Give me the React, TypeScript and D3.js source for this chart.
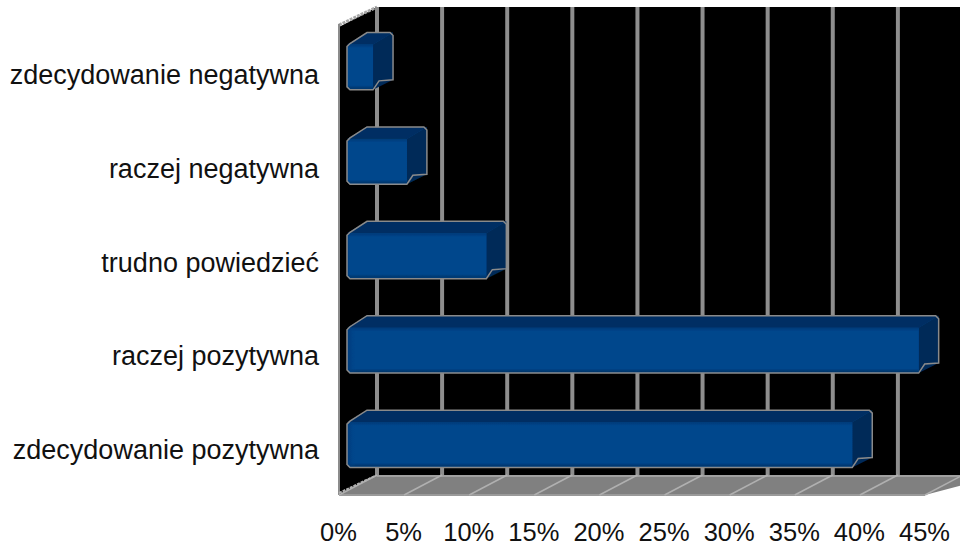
import React, { useEffect, useRef } from 'react';
import * as d3 from 'd3';

const categories = [
	'zdecydowanie negatywna',
	'raczej negatywna',
	'trudno powiedzieć',
	'raczej pozytywna',
	'zdecydowanie pozytywna',
];
const values = [2, 4.6, 10.7, 43.9, 38.8];
const ticks = [0, 5, 10, 15, 20, 25, 30, 35, 40, 45];

const width = 960;
const height = 548;
const fontFamily = '"Liberation Sans", Arial, sans-serif';

// front edge of the floor, the back wall sits up and to the right of it
const x = d3.scaleLinear().domain([0, 45]).range([339, 925]);
const y = d3.scaleBand().domain(categories).range([20, 492]).paddingInner(0.52).paddingOuter(0.26);
const labelY = d3.scalePoint().domain(categories).range([84, 459]);
const wallDx = 38;
const wallDy = 20;
const floorY = 495;
const topY = 27;
const barDx = 20;
const barDy = 12;
const barInset = 8;

const XAxis = () => {
	const axis = useRef<SVGGElement>(null);
	useEffect(() => {
		const g = d3.select(axis.current);
		g.call(d3.axisBottom(x).tickValues(ticks).tickSize(0).tickPadding(0).tickFormat((d) => `${d}%`) as any);
		g.select('.domain').remove();
		g.selectAll('text').attr('fill', '#111').attr('font-size', 25.5).attr('font-family', fontFamily).attr('dy', 0).attr('y', 0);
	}, []);
	return <g ref={axis} transform={`translate(-1, 541)`} />;
};

const Bar = ({ name, value }: { name: string; value: number }) => {
	const x0 = x(0) + barInset;
	const x1 = x(value) + barInset;
	const top = y(name)!;
	const bottom = top + y.bandwidth();
	const backBottom = bottom - 10;
	const outline = d3.path();
	outline.moveTo(x0, top + 2);
	outline.lineTo(x0 + 3, top - 1);
	outline.lineTo(x0 + barDx, top - barDy);
	outline.lineTo(x1 + barDx - 3, top - barDy);
	outline.lineTo(x1 + barDx, top - barDy + 3);
	outline.lineTo(x1 + barDx, backBottom);
	outline.lineTo(x1 + 6, backBottom + 1);
	outline.lineTo(x1, bottom);
	outline.lineTo(x0 + 3, bottom);
	outline.lineTo(x0, bottom - 3);
	outline.closePath();
	const side = [[x1, top], [x1 + barDx, top - barDy], [x1 + barDx, backBottom], [x1, bottom]];
	const upper = [[x0, top], [x0 + barDx, top - barDy], [x1 + barDx, top - barDy], [x1, top]];
	return (
		<g>
			<path d={outline.toString()} fill="#00468c" />
			<polygon points={upper.join(' ')} fill="#002f63" />
			<polygon points={side.join(' ')} fill="#002a58" />
			<rect x={x0 + 1} y={top} width={x1 - x0 - 1} height={bottom - top - 1} fill="url(#frontV)" />
			<rect x={x0 + 1} y={top} width={x1 - x0 - 1} height={bottom - top - 1} fill="url(#frontH)" />
			<path d={outline.toString()} fill="none" stroke="#8a8a8a" strokeWidth={1.5} />
		</g>
	);
};

const App = () => {
	const floor = [
		[x(0), floorY],
		[x(0) + wallDx, floorY - wallDy],
		[width + 40, floorY - wallDy],
		[x(45), floorY],
	];
	const backdrop = [
		[x(0), topY],
		[x(0) + wallDx, topY - wallDy],
		[width, topY - wallDy],
		[width, floorY - wallDy],
		[x(45), floorY],
		[x(0), floorY],
	];
	return (
		<svg width={width} height={height} style={{ position: 'absolute', left: 0, top: 0, background: '#fff' }}>
			<defs>
				<filter id="soft" x="-2%" y="-2%" width="104%" height="104%">
					<feGaussianBlur stdDeviation="0.5" />
				</filter>
				<linearGradient id="frontV" x1="0" y1="0" x2="0" y2="1">
					<stop offset="0" stopColor="#003a78" />
					<stop offset="0.08" stopColor="#00468c" />
					<stop offset="0.92" stopColor="#00468c" />
					<stop offset="1" stopColor="#003468" />
				</linearGradient>
				<linearGradient id="frontH" x1="0" y1="0" x2="1" y2="0">
					<stop offset="0" stopColor="#003a78" stopOpacity={0.8} />
					<stop offset="0.015" stopColor="#00468c" stopOpacity={0} />
					<stop offset="1" stopColor="#00468c" stopOpacity={0} />
				</linearGradient>
			</defs>
			<g filter="url(#soft)">
				<polygon points={backdrop.join(' ')} fill="#000" />
				<polygon points={floor.join(' ')} fill="#808080" />
				<line x1={x(0)} x2={x(0) + wallDx} y1={topY - 2} y2={topY - wallDy} stroke="#a8a8a8" strokeWidth={3} strokeDasharray="3 1" />
				<line x1={x(0)} x2={x(0)} y1={topY - 3} y2={floorY} stroke="#8c8c8c" strokeWidth={2} />
				<line x1={x(0)} x2={x(0) + wallDx} y1={floorY - 2} y2={floorY - wallDy} stroke="#b0b0b0" strokeWidth={2} strokeDasharray="3 1" />
				<line x1={x(0)} x2={x(45)} y1={floorY} y2={floorY} stroke="#9a9a9a" strokeWidth={2} />
				<line x1={x(0) + wallDx} x2={width} y1={floorY - wallDy + 1} y2={floorY - wallDy + 1} stroke="#a0a0a0" strokeWidth={2} />
				{ticks.map((t) => (
					<g key={t}>
						<line x1={x(t) + wallDx} x2={x(t) + wallDx} y1={topY - wallDy} y2={floorY - wallDy} stroke="#8e8e8e" strokeWidth={4} />
						<line x1={x(t)} x2={x(t) + wallDx} y1={floorY} y2={floorY - wallDy} stroke="#b0b0b0" strokeWidth={1.5} />
					</g>
				))}
				{categories.map((c, i) => (
					<Bar key={c} name={c} value={values[i]} />
				))}
			</g>
			{categories.map((c) => (
				<text key={c} x={319} y={labelY(c)} textAnchor="end" fontFamily={fontFamily} fontSize={27} fill="#111">
					{c}
				</text>
			))}
			<XAxis />
		</svg>
	);
};

export default App;
